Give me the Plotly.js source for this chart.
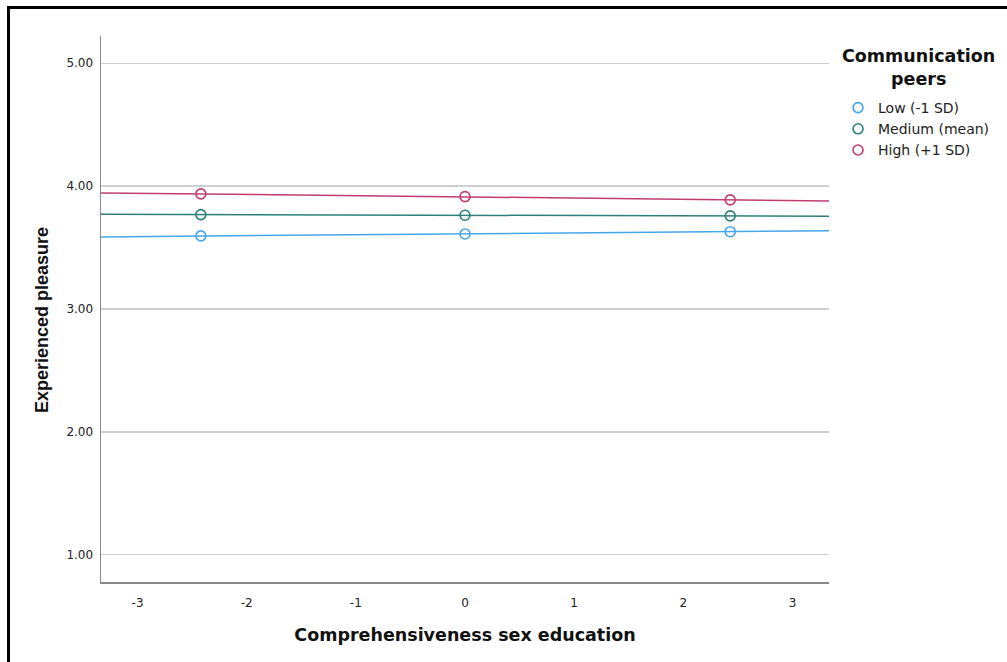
<!DOCTYPE html>
<html>
<head>
<meta charset="utf-8">
<script src="https://cdn.plot.ly/plotly-3.0.1.min.js"></script>
<style>
  html, body { margin: 0; padding: 0; background: #fff; overflow: hidden; }
  #chart { width: 1007px; height: 662px; }
  #frame { position: absolute; left: 7px; top: 6px; width: 2000px; height: 2000px;
           border-left: 3px solid #000; border-top: 3px solid #000; pointer-events: none; }
</style>
</head>
<body>
<div id="chart"></div>
<div id="frame"></div>
<script>
// Data
const groups = ["Low (-1 SD)", "Medium (mean)", "High (+1 SD)"];
const pointX = [-2.42, 0, 2.43];
const lowY = [3.595, 3.611, 3.629];
const mediumY = [3.768, 3.763, 3.758];
const highY = [3.937, 3.915, 3.888];
// fitted line end points (at the axis edges)
const lineX = [-3.335, 3.335];
const lowLineY = [3.587, 3.637];
const mediumLineY = [3.771, 3.755];
const highLineY = [3.945, 3.880];
const colors = ["#45a7ea", "#2e7f7b", "#c23c74"];

const xTicks = [-3, -2, -1, 0, 1, 2, 3];
const yTicks = [1, 2, 3, 4, 5];
const yTickText = ["1.00", "2.00", "3.00", "4.00", "5.00"];
const xTitle = "Comprehensiveness sex education";
const yTitle = "Experienced pleasure";
const legendTitle = "Communication<br>peers";

const pts = [lowY, mediumY, highY];
const lns = [lowLineY, mediumLineY, highLineY];
const traces = [];
for (let i = 0; i < groups.length; i++) {
  traces.push({
    x: lineX, y: lns[i], mode: "lines", type: "scatter",
    line: { color: colors[i], width: 1.5 }, showlegend: false, hoverinfo: "skip"
  });
}
for (let i = 0; i < groups.length; i++) {
  traces.push({
    x: pointX, y: pts[i], mode: "markers", type: "scatter", name: groups[i],
    marker: { symbol: "circle-open", size: 10, color: colors[i], line: { width: 1.6, color: colors[i] } }
  });
}

const dj = "DejaVu Sans, Liberation Sans, Arial, sans-serif";
const layout = {
  width: 1007, height: 662,
  margin: { l: 101, r: 178, t: 36, b: 80 },
  paper_bgcolor: "#fff", plot_bgcolor: "#fff",
  font: { family: dj, color: "#222" },
  xaxis: {
    range: [-3.335, 3.335], tickvals: xTicks, ticktext: xTicks.map(String),
    showgrid: false, zeroline: false, showline: true, linecolor: "#888", linewidth: 1.5,
    ticks: "", tickfont: { family: dj, size: 12, color: "#222" }, ticklabelstandoff: 9,
    title: { text: xTitle, font: { family: dj, size: 17.5, color: "#111", weight: "bold" }, standoff: 20 }
  },
  yaxis: {
    range: [0.778, 5.222], tickvals: yTicks, ticktext: yTickText,
    showgrid: true, gridcolor: "#cfcfcf", gridwidth: 1.5, zeroline: false,
    showline: true, linecolor: "#888", linewidth: 1.5,
    ticks: "", tickfont: { family: dj, size: 12, color: "#222" }, ticklabelstandoff: 4
  },
  legend: {
    x: 1.0124, xanchor: "left", y: 0.8974, yanchor: "top",
    bgcolor: "rgba(0,0,0,0)", font: { family: dj, size: 14, color: "#222" },
    itemwidth: 30, tracegroupgap: 0
  },
  annotations: [
    {
      xref: "paper", yref: "paper", x: 1.1223, y: 0.9432, xanchor: "center", yanchor: "middle",
      text: legendTitle, showarrow: false, align: "center",
      font: { family: dj, size: 17.5, color: "#111", weight: "bold" }
    },
    {
      xref: "paper", yref: "paper", x: -0.081, y: 0.4799, xanchor: "center", yanchor: "middle",
      text: yTitle, showarrow: false, textangle: -90,
      font: { family: "Liberation Sans, Arial, sans-serif", size: 18, color: "#111", weight: "bold" }
    }
  ]
};

Plotly.newPlot("chart", traces, layout, { displayModeBar: false, staticPlot: true });
</script>
</body>
</html>
